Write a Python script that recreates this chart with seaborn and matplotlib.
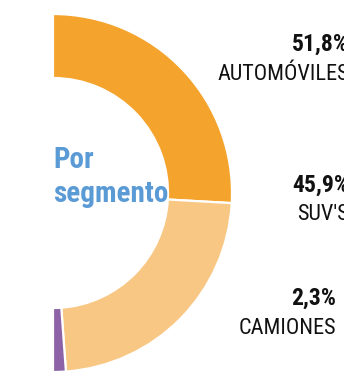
import matplotlib
matplotlib.use("Agg")
import matplotlib.pyplot as plt
from matplotlib import font_manager
import seaborn as sns

# Market share by vehicle segment (half donut)
segments = ["AUTOMÓVILES", "SUV'S", "CAMIONES"]
shares = [51.8, 45.9, 2.3]
share_labels = ["51,8%", "45,9%", "2,3%"]
title_lines = ["Por", "segmento"]

sns.set_theme(style="white")
palette = sns.color_palette(["#F4A32D", "#F9C784", "#8E62A6"])

installed = {f.name for f in font_manager.fontManager.ttflist}
narrow = None
for cand in ["Liberation Sans Narrow", "Roboto Condensed", "Open Sans Condensed",
             "DejaVu Sans Condensed"]:
    if cand in installed:
        narrow = cand
        break
families = [narrow, "DejaVu Sans"] if narrow else ["DejaVu Sans"]
plt.rcParams["font.family"] = families

W, H = 344, 371
fig = plt.figure(figsize=(W / 100, H / 100), dpi=100)
ax = fig.add_axes([0, 0, 1, 1])

cx, cy = 53, H - 193
r_out, r_in = 179, 115

# the remaining half of the circle is an invisible wedge
vals = shares + [sum(shares)]
cols = list(palette) + [(1, 1, 1, 0)]
wedges, _ = ax.pie(vals, colors=cols, startangle=90, counterclock=False,
                   radius=r_out, center=(cx, cy), frame=True,
                   wedgeprops=dict(width=r_out - r_in, edgecolor="white", linewidth=1.6))
wedges[-1].set_edgecolor("none")

ax.set_xlim(0, W)
ax.set_ylim(0, H)
ax.set_aspect("equal")
ax.axis("off")

blue = "#5B9BD5"
ax.text(cx, H - 160, title_lines[0], color=blue, fontsize=21, fontweight="bold",
        ha="left", va="center")
ax.text(cx, H - 194, title_lines[1], color=blue, fontsize=21, fontweight="bold",
        ha="left", va="center")

label_pos = [(349, H - 44, H - 74), (349, H - 185, H - 214), (336, H - 298, H - 328)]
for (x, y1, y2), pct, name in zip(label_pos, share_labels, segments):
    ax.text(x, y1, pct, fontsize=17, fontweight="bold", color="#111111",
            ha="right", va="center")
    ax.text(x, y2, name, fontsize=16, color="#111111", ha="right", va="center")

fig.savefig("out.png", dpi=100)
